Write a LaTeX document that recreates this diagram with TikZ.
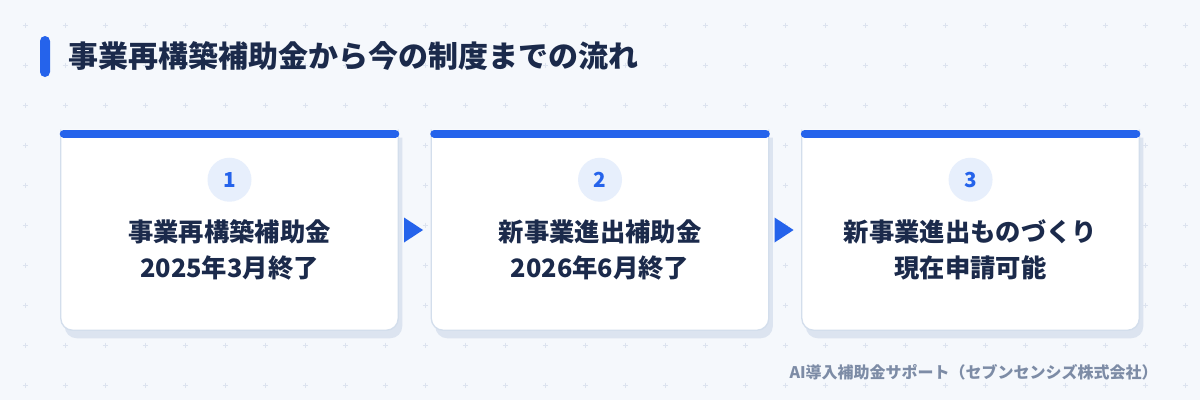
\documentclass[tikz,border=0pt]{standalone}
\usepackage{fontspec}
\newfontfamily\jpfont{Noto Sans CJK JP}
\usetikzlibrary{positioning, shadows, shapes.geometric}
\definecolor{bgpaper}{HTML}{F5F8FC}
\definecolor{gridplus}{HTML}{DCE3EF}
\definecolor{accent}{HTML}{2563EB}
\definecolor{navy}{HTML}{1B2A4B}
\definecolor{cardline}{HTML}{D3DEEC}
\definecolor{cardshade}{HTML}{DCE4F0}
\definecolor{numfill}{HTML}{E7EFFC}
\definecolor{footgray}{HTML}{7D8CA6}
\tikzset{
  card/.style={
    rectangle, minimum width=252.75pt, minimum height=150pt, inner sep=0pt
  },
  cardbody/.style={
    draw=cardline, line width=1pt, fill=white, rounded corners=9pt,
    % shadow sits right and below
    drop shadow={shadow xshift=3pt, shadow yshift=-6pt, fill=cardshade, opacity=1}
  },
  cardbar/.style={
    draw=accent, line width=6pt, line cap=round
  },
  numcircle/.style={
    circle, fill=numfill, minimum size=33pt, inner sep=0pt,
    text=accent, font=\jpfont\bfseries\fontsize{15.5pt}{15.5pt}\selectfont
  },
  cardtext/.style={
    align=center, text=navy, inner sep=0pt,
    font=\jpfont\bfseries\fontsize{19pt}{27pt}\selectfont
  },
  arrowtip/.style={
    isosceles triangle, isosceles triangle stretches, fill=accent,
    minimum width=18.75pt, minimum height=14.25pt, inner sep=0pt, xshift=-3pt
  },
  titlebar/.style={
    rectangle, fill=accent, rounded corners=3.75pt,
    minimum width=7.5pt, minimum height=30.75pt, inner sep=0pt
  },
  titletext/.style={
    text=navy, inner sep=0pt, anchor=west,
    font=\jpfont\bfseries\fontsize{22.5pt}{22.5pt}\selectfont
  },
  foottext/.style={
    text=footgray, inner sep=0pt, anchor=east,
    font=\jpfont\bfseries\fontsize{12pt}{12pt}\selectfont
  },
  plusmark/.style={
    draw=gridplus, line width=0.6pt
  }
}

\begin{document}
\begin{tikzpicture}[x=0.75pt, y=-0.75pt]
  \fill[bgpaper] (0,0) rectangle (1200,400);
  \useasboundingbox (0,0) rectangle (1200,400);
  \foreach \i in {0,...,29}
    \foreach \j in {0,...,9}
      \draw[plusmark] (22.5+40*\i,25+40*\j) -- ++(5,0) (25+40*\i,22.5+40*\j) -- ++(0,5);

  % heading
  \node[titlebar] (bar) at (45,56.5) {};
  \node[titletext] (title) [right=13.5pt of bar] {事業再構築補助金から今の制度までの流れ};

  % cards
  \node[card] (card1) at (229.5,230) {};
  \node[card] (card2) [right=24.75pt of card1] {};
  \node[card] (card3) [right=24.75pt of card2] {};
  \foreach \c in {card1, card2, card3} {
    \fill[cardbody] (\c.north west) -- (\c.south west) -- (\c.south east) -- (\c.north east);
    \draw[cardbar] ([xshift=2.25pt, yshift=-3pt]\c.north west) -- ([xshift=-2.25pt, yshift=-3pt]\c.north east);
  }

  \node[numcircle] (num1) at ([yshift=-37.5pt]card1.north) {1};
  \node[numcircle] (num2) at ([yshift=-37.5pt]card2.north) {2};
  \node[numcircle] (num3) at ([yshift=-37.5pt]card3.north) {3};

  \node[cardtext] (text1) at ([yshift=-15pt]card1.center) {事業再構築補助金\\2025年3月終了};
  \node[cardtext] (text2) at ([yshift=-15pt]card2.center) {新事業進出補助金\\2026年6月終了};
  \node[cardtext] (text3) at ([yshift=-15pt]card3.center) {新事業進出ものづくり\\現在申請可能};

  \path (card1) -- (card2) node[arrowtip, midway] (arr12) {};
  \path (card2) -- (card3) node[arrowtip, midway] (arr23) {};

  \node[foottext] (foot) at (1158,372) {AI導入補助金サポート（セブンセンシズ株式会社）};
\end{tikzpicture}
\end{document}
